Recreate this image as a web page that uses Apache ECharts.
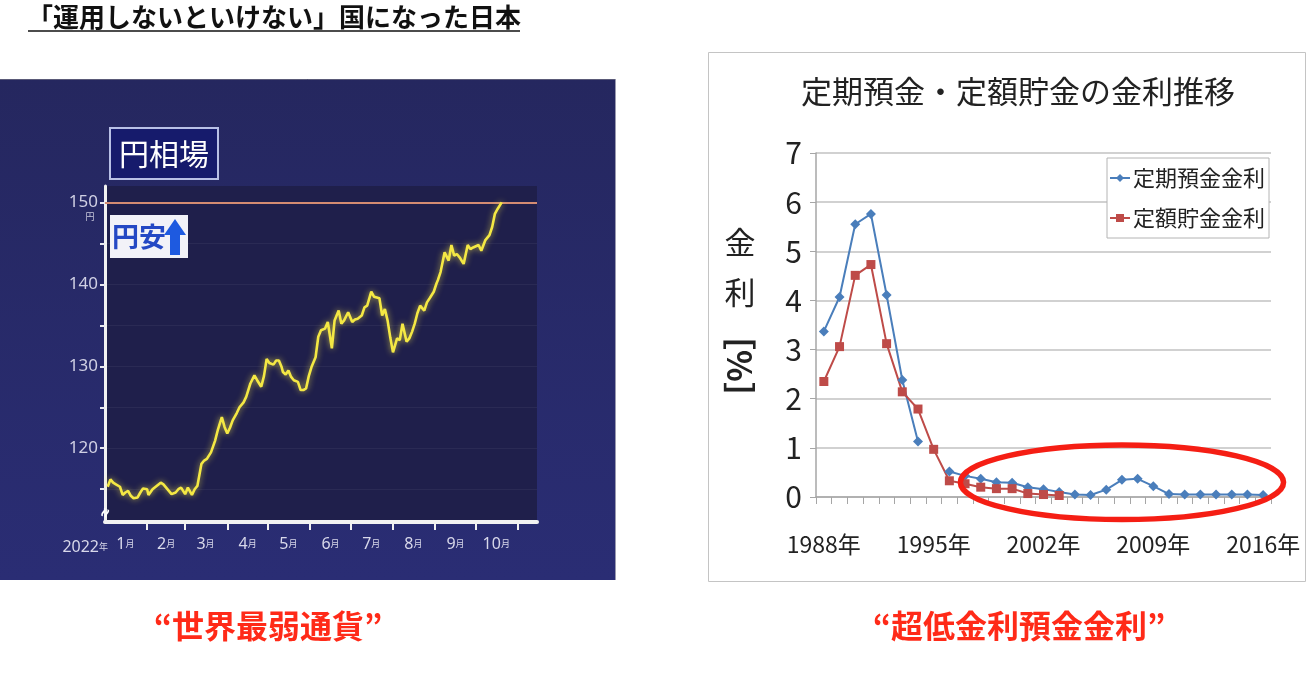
<!DOCTYPE html>
<html><head><meta charset="utf-8">
<script src="https://cdn.jsdelivr.net/npm/echarts@6/dist/echarts.min.js"></script>
<style>html,body{margin:0;padding:0;background:#fff}#c{width:1316px;height:682px}</style>
</head><body><div id="c"></div><script>
// ---------- Left chart: 円相場 (USD/JPY, 2022) ----------
// day-of-year (Jan 1 = 0) and rate
const fxDays = [2,4,6,8,11,13,15,17,19,21,24,26,28,31,32,35,38,41,43,45,47,49,52,54,56,59,61,64,66,68,71,73,75,78,81,83,86,88,90,92,94,97,99,102,104,107,110,112,115,117,119,121,122,124,126,128,130,131,133,135,137,139,142,144,146,148,150,152,155,157,159,162,164,167,169,172,174,176,179,182,184,186,189,191,193,196,198,202,204,206,208,210,212,215,217,219,222,224,226,228,230,232,235,237,239,242,244,245,247,248,250,253,255,257,259,261,264,267,269,271,275,277,280,283,285,287,289,292];
const fxRates = [115.3,116.2,115.8,115.6,115.3,114.3,114.6,114.8,114.2,113.9,114.0,114.6,115.1,115.0,114.3,115.0,115.4,115.8,115.6,115.2,114.8,114.4,114.6,115.0,115.2,114.4,115.2,114.3,115.0,115.4,118.1,118.5,118.7,119.5,120.9,122.2,123.8,122.6,121.8,122.5,123.4,124.3,125.0,125.6,126.3,127.9,128.9,128.3,127.5,128.8,130.9,130.4,130.3,130.2,130.7,130.7,129.9,129.3,129.0,129.5,128.7,128.3,128.1,127.1,127.1,127.3,128.8,129.9,131.1,133.6,134.4,134.6,135.4,132.2,135.6,136.8,135.2,135.6,136.6,135.4,135.7,135.8,136.2,137.2,137.4,139.1,138.5,138.3,136.2,137.0,135.6,133.5,131.7,133.4,133.2,135.2,133.0,133.4,134.2,135.2,136.5,137.4,136.8,137.8,138.3,139.1,140.1,140.5,141.5,142.3,143.9,142.9,144.8,143.5,143.7,143.3,142.5,144.8,144.3,144.5,144.8,144.1,145.4,146.0,147.0,148.6,149.2,150.0];
const monthTickDays = [31,59,90,120,151,181,212,243,273,304];
const monthLabelDays = [15,45,74,105,135,166,196,227,258,288];
const monthLabels = ['1','2','3','4','5','6','7','8','9','10'];
const fxTickValues = [115,120,125,130,135,140,145,150];
const fxLabelValues = [120,130,140,150];
const fxFaintLines = [115,120,125,130,135,140,145];
const fxCeiling = 150;

// ---------- Right chart: 定期預金・定額貯金の金利推移 ----------
const years = ['1988年','1989年','1990年','1991年','1992年','1993年','1994年','1995年','1996年','1997年','1998年','1999年','2000年','2001年','2002年','2003年','2004年','2005年','2006年','2007年','2008年','2009年','2010年','2011年','2012年','2013年','2014年','2015年','2016年'];
const teikiRate = [3.37,4.07,5.55,5.76,4.11,2.38,1.13,null,0.52,0.43,0.37,0.30,0.29,0.20,0.16,0.10,0.05,0.04,0.15,0.35,0.37,0.22,0.06,0.05,0.05,0.05,0.05,0.05,0.04];
const teigakuRate = [2.35,3.06,4.51,4.73,3.12,2.14,1.79,0.97,0.33,0.27,0.20,0.17,0.17,0.07,0.05,0.03,null,null,null,null,null,null,null,null,null,null,null,null,null];

const fxData = fxDays.map((d,i)=>[d, fxRates[i]]);
const JP = "'Noto Sans CJK JP', sans-serif";
const NARROW = "'Liberation Sans Narrow', 'Noto Sans CJK JP', sans-serif";

const chart = echarts.init(document.getElementById('c'), null, {renderer:'canvas'});

const baseGraphic = [
  // heading
  {type:'text', x:27, y:17, z:100, style:{text:'「運用しないといけない」国になった日本', fill:'#111', fontSize:26, fontWeight:'bold', fontFamily:JP, align:'left', verticalAlign:'middle'}},
  {type:'line', z:100, shape:{x1:28,y1:31,x2:520,y2:31}, style:{stroke:'#111', lineWidth:1.5}},
  // left panel
  {type:'rect', z:-10, shape:{x:0,y:79,width:615,height:501}, style:{fill:{type:'linear',x:0,y:0,x2:0,y2:1,colorStops:[{offset:0,color:'#25275f'},{offset:1,color:'#2a2d74'}]}}},
  {type:'line', z:-9, shape:{x1:0,y1:79.5,x2:615,y2:79.5}, style:{stroke:'#5a5a78', lineWidth:1}},
  {type:'line', z:-9, shape:{x1:615.5,y1:79,x2:615.5,y2:580}, style:{stroke:'#9a9ab0', lineWidth:1}},
  // 円相場 box
  {type:'rect', z:50, shape:{x:110,y:128,width:108,height:51}, style:{fill:'#161b6c', stroke:'#b8c0e6', lineWidth:2}},
  {type:'text', z:51, x:164, y:154, style:{text:'円相場', fill:'#ffffff', fontSize:30, fontFamily:JP, align:'center', verticalAlign:'middle'}},
  // 円安 box
  {type:'rect', z:50, shape:{x:110,y:215,width:78,height:43}, style:{fill:'#f2f2f8'}},
  {type:'text', z:51, x:112, y:237, style:{text:'円安', fill:'#2448c4', fontSize:27, fontWeight:'bold', fontFamily:JP, align:'left', verticalAlign:'middle'}},
  {type:'polygon', z:51, shape:{points:[[175,219],[186,235],[180,235],[180,255],[170,255],[170,235],[164,235]]}, style:{fill:'#1e5ae0'}},
  // 円 unit under 150
  {type:'text', z:51, x:90, y:217, style:{text:'円', fill:'#c8c8dc', fontSize:9, fontFamily:JP, align:'center', verticalAlign:'middle'}},
  // 2022年
  {type:'text', z:51, x:108, y:547, style:{text:'{a|2022}{b|年}', align:'right', verticalAlign:'middle', rich:{a:{fontSize:16, fill:'#d8d8ea', fontFamily:"'Noto Sans', sans-serif"}, b:{fontSize:9, fill:'#d8d8ea', fontFamily:JP}}}},
  // axis break mark
  {type:'text', z:60, x:106, y:513, rotation:1.2, style:{text:'≈', fill:'#ffffff', fontSize:16, fontWeight:'bold', align:'center', verticalAlign:'middle'}},
  // right panel
  {type:'rect', z:-10, shape:{x:708.5,y:52.5,width:597,height:529}, style:{fill:'#ffffff', stroke:'#c4c4c4', lineWidth:1}},
  // y axis name right chart
  {type:'text', z:50, x:740, y:242, style:{text:'金', fill:'#222', fontSize:31, fontFamily:JP, align:'center', verticalAlign:'middle'}},
  {type:'text', z:50, x:740, y:292, style:{text:'利', fill:'#222', fontSize:31, fontFamily:JP, align:'center', verticalAlign:'middle'}},
  {type:'text', z:50, x:740, y:366, rotation:-Math.PI/2, style:{text:'［%］', fill:'#222', fontSize:33, fontWeight:'bold', fontFamily:JP, align:'center', verticalAlign:'middle'}},
  // bottom captions
  {type:'text', z:50, x:268, y:626, style:{text:'“世界最弱通貨”', fill:'#ff2a18', fontSize:32, fontWeight:'bold', fontFamily:JP, align:'center', verticalAlign:'middle'}},
  {type:'text', z:50, x:1019, y:626, style:{text:'“超低金利預金金利”', fill:'#ff2a18', fontSize:32, fontWeight:'bold', fontFamily:JP, align:'center', verticalAlign:'middle'}}
];

const option = {
  animation:false,
  title:{text:'定期預金・定額貯金の金利推移', left:1013, top:71, textAlign:'center', textStyle:{fontSize:31, fontWeight:'normal', color:'#222', fontFamily:JP}},
  legend:{data:['定期預金金利','定額貯金金利'], orient:'vertical', left:1107, top:158, backgroundColor:'#ffffff', borderColor:'#b4b4b4', borderWidth:1, borderRadius:0, padding:[9,4,9,2], itemGap:18, itemWidth:20, itemHeight:10, textStyle:{fontSize:22, color:'#222', fontFamily:JP, padding:[0,0,0,-2]}},
  grid:[
    {left:105, top:186, width:432, height:336, show:true, backgroundColor:'#1f1f4b', borderWidth:0},
    {left:816, top:153, width:455, height:344}
  ],
  xAxis:[
    {gridIndex:0, type:'value', min:0, max:318,
     axisLine:{show:true, onZero:false, lineStyle:{color:'#f2f2f2', width:4}},
     axisTick:{show:true, customValues:monthTickDays, length:8, lineStyle:{color:'#f2f2f2', width:2}},
     axisLabel:{customValues:monthLabelDays, margin:14, formatter:function(v){const i=monthLabelDays.indexOf(v);return '{n|'+monthLabels[i]+'}{m|月}';},
       rich:{n:{fontSize:16, color:'#d8d8ea', fontFamily:"'Noto Sans', sans-serif"}, m:{fontSize:9, color:'#d8d8ea', fontFamily:JP}}},
     splitLine:{show:false}},
    {gridIndex:1, type:'category', data:years, boundaryGap:true,
     axisLine:{lineStyle:{color:'#a6a6a6', width:1.5}},
     axisTick:{show:true, interval:0, length:7, lineStyle:{color:'#a6a6a6'}},
     axisLabel:{interval:6, color:'#222', fontSize:23, margin:36, fontFamily:NARROW},
     splitLine:{show:false}}
  ],
  yAxis:[
    {gridIndex:0, type:'value', min:111, max:152,
     axisLine:{show:true, onZero:false, lineStyle:{color:'#f2f2f2', width:3}},
     axisTick:{show:true, customValues:fxTickValues, length:5, lineStyle:{color:'#e8e8f0', width:2}},
     axisLabel:{customValues:fxLabelValues, color:'#d0d0e4', fontSize:17, margin:7, fontFamily:"'Noto Sans', sans-serif"},
     splitLine:{show:false}},
    {gridIndex:1, type:'value', min:0, max:7, interval:1,
     axisLine:{show:true, lineStyle:{color:'#a6a6a6', width:1.5}},
     axisTick:{show:true, length:6, lineStyle:{color:'#a6a6a6'}},
     axisLabel:{color:'#222', fontSize:30, margin:14, fontFamily:NARROW},
     splitLine:{lineStyle:{color:'#c2c2c2', width:1.5}}}
  ],
  series:[
    {type:'line', name:'円相場', xAxisIndex:0, yAxisIndex:0, data:fxData, showSymbol:false, symbol:'none',
     lineStyle:{color:'#f4e844', width:2.6, shadowColor:'rgba(245,230,70,0.7)', shadowBlur:6}, z:5,
     markLine:{silent:true, symbol:'none', label:{show:false}, animation:false,
       data:[{yAxis:fxCeiling, lineStyle:{color:'#d48c72', width:2, type:'solid'}}].concat(fxFaintLines.map(v=>({yAxis:v, lineStyle:{color:'rgba(255,255,255,0.05)', width:1, type:'solid'}})))}},
    {type:'line', name:'定期預金金利', xAxisIndex:1, yAxisIndex:1, data:teikiRate, connectNulls:false,
     symbol:'diamond', symbolSize:10, lineStyle:{color:'#4a7ebb', width:2}, itemStyle:{color:'#4a7ebb'}},
    {type:'line', name:'定額貯金金利', xAxisIndex:1, yAxisIndex:1, data:teigakuRate, connectNulls:false,
     symbol:'rect', symbolSize:9, lineStyle:{color:'#be4b48', width:2}, itemStyle:{color:'#be4b48'}}
  ],
  graphic:{elements:baseGraphic}
};
chart.setOption(option);

// red ellipse annotation placed via the chart's own scales
const ctr = chart.convertToPixel({gridIndex:1}, [19, 0.3]);
const step = chart.convertToPixel({gridIndex:1}, [20, 0])[0] - chart.convertToPixel({gridIndex:1}, [19, 0])[0];
const unit = chart.convertToPixel({gridIndex:1}, [0, 0])[1] - chart.convertToPixel({gridIndex:1}, [0, 1])[1];
chart.setOption({graphic:{elements:baseGraphic.concat([
  {type:'ellipse', z:200, shape:{cx:ctr[0], cy:ctr[1], rx:10.3*step, ry:0.76*unit}, style:{fill:'none', stroke:'#f51e14', lineWidth:5.5}}
])}}, {replaceMerge:['graphic']});
</script></body></html>
